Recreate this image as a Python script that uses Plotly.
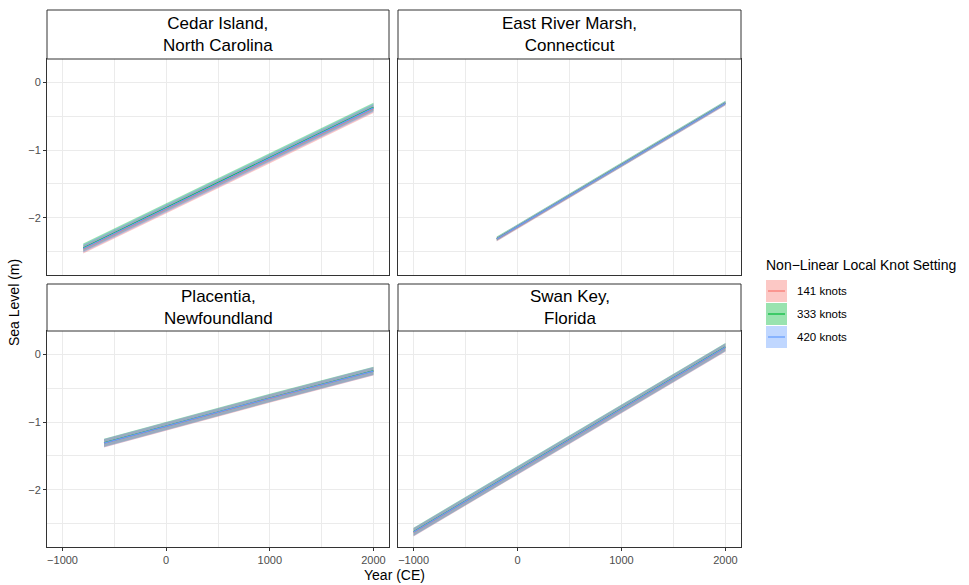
import plotly.graph_objects as go

# ---- data -------------------------------------------------------------
sites = ["Cedar Island,<br>North Carolina", "East River Marsh,<br>Connecticut",
         "Placentia,<br>Newfoundland", "Swan Key,<br>Florida"]
knots = ["141 knots", "333 knots", "420 knots"]

cedar_years = [-800, 0, 1000, 2000]
cedar_mean_141 = [-2.458, -1.868, -1.128, -0.388]
cedar_lower_141 = [-2.525, -1.935, -1.195, -0.455]
cedar_upper_141 = [-2.405, -1.815, -1.075, -0.335]
cedar_mean_333 = [-2.442, -1.852, -1.112, -0.372]
cedar_lower_333 = [-2.495, -1.905, -1.165, -0.425]
cedar_upper_333 = [-2.375, -1.785, -1.045, -0.305]
cedar_mean_420 = [-2.45, -1.86, -1.12, -0.38]
cedar_lower_420 = [-2.51, -1.92, -1.18, -0.44]
cedar_upper_420 = [-2.39, -1.80, -1.06, -0.32]

east_years = [-200, 0, 1000, 2000]
east_mean_141 = [-2.312, -2.132, -1.222, -0.312]
east_lower_141 = [-2.345, -2.165, -1.255, -0.345]
east_upper_141 = [-2.285, -2.105, -1.195, -0.285]
east_mean_333 = [-2.308, -2.128, -1.218, -0.308]
east_lower_333 = [-2.335, -2.155, -1.245, -0.335]
east_upper_333 = [-2.275, -2.095, -1.185, -0.275]
east_mean_420 = [-2.31, -2.13, -1.22, -0.31]
east_lower_420 = [-2.34, -2.16, -1.25, -0.34]
east_upper_420 = [-2.28, -2.10, -1.19, -0.28]

plac_years = [-600, 0, 1000, 2000]
plac_mean_141 = [-1.313, -1.063, -0.653, -0.253]
plac_lower_141 = [-1.375, -1.125, -0.715, -0.315]
plac_upper_141 = [-1.255, -1.005, -0.595, -0.195]
plac_mean_333 = [-1.307, -1.057, -0.647, -0.247]
plac_lower_333 = [-1.365, -1.115, -0.705, -0.305]
plac_upper_333 = [-1.245, -0.995, -0.585, -0.185]
plac_mean_420 = [-1.31, -1.06, -0.65, -0.25]
plac_lower_420 = [-1.37, -1.12, -0.71, -0.31]
plac_upper_420 = [-1.25, -1.00, -0.59, -0.19]

swan_years = [-1000, 0, 1000, 2000]
swan_mean_141 = [-2.623, -1.713, -0.813, 0.097]
swan_lower_141 = [-2.685, -1.775, -0.875, 0.035]
swan_upper_141 = [-2.565, -1.655, -0.755, 0.155]
swan_mean_333 = [-2.617, -1.707, -0.807, 0.103]
swan_lower_333 = [-2.675, -1.765, -0.865, 0.045]
swan_upper_333 = [-2.555, -1.645, -0.745, 0.165]
swan_mean_420 = [-2.62, -1.71, -0.81, 0.10]
swan_lower_420 = [-2.68, -1.77, -0.87, 0.04]
swan_upper_420 = [-2.56, -1.65, -0.75, 0.16]

x_ticks = [-1000, 0, 1000, 2000]
x_tick_text = ["\u22121000", "0", "1000", "2000"]
y_ticks = [-2, -1, 0]
y_tick_text = ["\u22122", "\u22121", "0"]

line_colors = ["#F8766D", "#00BA38", "#619CFF"]
fill_colors = ["rgba(248,118,109,0.4)", "rgba(0,186,56,0.4)", "rgba(97,156,255,0.4)"]

site_data = [
    (cedar_years, [(cedar_mean_141, cedar_lower_141, cedar_upper_141),
                   (cedar_mean_333, cedar_lower_333, cedar_upper_333),
                   (cedar_mean_420, cedar_lower_420, cedar_upper_420)]),
    (east_years, [(east_mean_141, east_lower_141, east_upper_141),
                  (east_mean_333, east_lower_333, east_upper_333),
                  (east_mean_420, east_lower_420, east_upper_420)]),
    (plac_years, [(plac_mean_141, plac_lower_141, plac_upper_141),
                  (plac_mean_333, plac_lower_333, plac_upper_333),
                  (plac_mean_420, plac_lower_420, plac_upper_420)]),
    (swan_years, [(swan_mean_141, swan_lower_141, swan_upper_141),
                  (swan_mean_333, swan_lower_333, swan_upper_333),
                  (swan_mean_420, swan_lower_420, swan_upper_420)]),
]

# stacking order of the knot settings inside each panel (420 on top)
draw_order = [1, 0, 2]

# ---- layout geometry (pixels) -----------------------------------------
W, H = 969, 585
col_px = [(47, 389), (398, 741)]
row_plot_px = [(59, 275), (331, 547)]
row_strip_px = [(10, 59), (284, 331)]


def px_x(v):
    return v / W


def px_y(v):
    return 1 - v / H


fig = go.Figure()

axis_names = ["", "2", "3", "4"]
for i, (years, series) in enumerate(site_data):
    xa = "x" + axis_names[i]
    ya = "y" + axis_names[i]
    # ribbons first, lines on top
    for k in draw_order:
        mean, lo, hi = series[k]
        fig.add_trace(go.Scatter(
            x=list(years) + list(years)[::-1], y=list(hi) + list(lo)[::-1],
            fill="toself", fillcolor=fill_colors[k], mode="lines",
            line=dict(width=0), hoverinfo="skip", showlegend=False,
            xaxis=xa, yaxis=ya))
    for k in draw_order:
        mean, lo, hi = series[k]
        fig.add_trace(go.Scatter(
            x=years, y=mean, mode="lines", name=knots[k],
            line=dict(color=line_colors[k], width=1.2),
            showlegend=False, xaxis=xa, yaxis=ya))

grid = "#EBEBEB"
frame = "#333333"
tickfont = dict(family="Liberation Sans, Arial, sans-serif", size=11, color="#4D4D4D")

layout = dict(
    width=W, height=H,
    margin=dict(l=0, r=0, t=0, b=0),
    paper_bgcolor="white", plot_bgcolor="white",
    showlegend=False,
    font=dict(family="Liberation Sans, Arial, sans-serif", color="black"),
)

for i in range(4):
    r, c = divmod(i, 2)
    x0, x1 = col_px[c]
    y0, y1 = row_plot_px[r]
    xkey = "xaxis" + axis_names[i]
    ykey = "yaxis" + axis_names[i]
    layout[xkey] = dict(
        domain=[px_x(x0), px_x(x1)], range=[-1150, 2150],
        anchor="y" + axis_names[i],
        tickvals=x_ticks, ticktext=x_tick_text,
        showticklabels=(r == 1), ticks="outside" if r == 1 else "",
        ticklen=3, tickcolor=frame, tickwidth=1,
        tickfont=tickfont,
        showgrid=True, gridcolor=grid, gridwidth=1.1,
        minor=dict(tickvals=[-500, 500, 1500], showgrid=True, gridcolor=grid, gridwidth=0.55),
        showline=True, linecolor=frame, linewidth=1, mirror=True,
        zeroline=False, fixedrange=True,
    )
    layout[ykey] = dict(
        domain=[px_y(y1), px_y(y0)], range=[-2.84, 0.34],
        anchor="x" + axis_names[i],
        tickvals=y_ticks, ticktext=y_tick_text,
        showticklabels=(c == 0), ticks="outside" if c == 0 else "",
        ticklen=3, tickcolor=frame, tickwidth=1,
        tickfont=tickfont,
        showgrid=True, gridcolor=grid, gridwidth=1.1,
        minor=dict(tickvals=[-2.5, -1.5, -0.5], showgrid=True, gridcolor=grid, gridwidth=0.55),
        showline=True, linecolor=frame, linewidth=1, mirror=True,
        zeroline=False, fixedrange=True,
    )

shapes = []
annotations = []
# facet strips
for i, name in enumerate(sites):
    r, c = divmod(i, 2)
    x0, x1 = col_px[c]
    s0, s1 = row_strip_px[r]
    shapes.append(dict(type="rect", xref="paper", yref="paper",
                       x0=px_x(x0), x1=px_x(x1), y0=px_y(s1), y1=px_y(s0),
                       fillcolor="white", line=dict(color=frame, width=1)))
    annotations.append(dict(text=name, xref="paper", yref="paper",
                            x=px_x((x0 + x1) / 2), y=px_y((s0 + s1) / 2),
                            xanchor="center", yanchor="middle", showarrow=False,
                            font=dict(size=17, color="black")))

# axis titles
annotations.append(dict(text="Year (CE)", xref="paper", yref="paper",
                        x=px_x(394), y=px_y(575), xanchor="center", yanchor="middle",
                        showarrow=False, font=dict(size=14, color="black")))
annotations.append(dict(text="Sea Level (m)", xref="paper", yref="paper",
                        x=px_x(14), y=px_y(303), xanchor="center", yanchor="middle",
                        textangle=-90, showarrow=False, font=dict(size=14, color="black")))

# legend
annotations.append(dict(text="Non\u2212Linear Local Knot Setting", xref="paper", yref="paper",
                        x=px_x(764), y=px_y(265), xanchor="left", yanchor="middle",
                        showarrow=False, font=dict(size=14, color="black")))
key_top = [280, 303, 326]
for k, label in enumerate(knots):
    t = key_top[k]
    shapes.append(dict(type="rect", xref="paper", yref="paper",
                       x0=px_x(766), x1=px_x(787), y0=px_y(t + 22), y1=px_y(t),
                       fillcolor=fill_colors[k], line=dict(width=0)))
    shapes.append(dict(type="line", xref="paper", yref="paper",
                       x0=px_x(768), x1=px_x(785), y0=px_y(t + 11), y1=px_y(t + 11),
                       line=dict(color=line_colors[k], width=1.2)))
    annotations.append(dict(text=label, xref="paper", yref="paper",
                            x=px_x(795), y=px_y(t + 11), xanchor="left", yanchor="middle",
                            showarrow=False, font=dict(size=11.5, color="black")))

layout["shapes"] = shapes
layout["annotations"] = annotations
fig.update_layout(**layout)

fig.write_html("out.html")
